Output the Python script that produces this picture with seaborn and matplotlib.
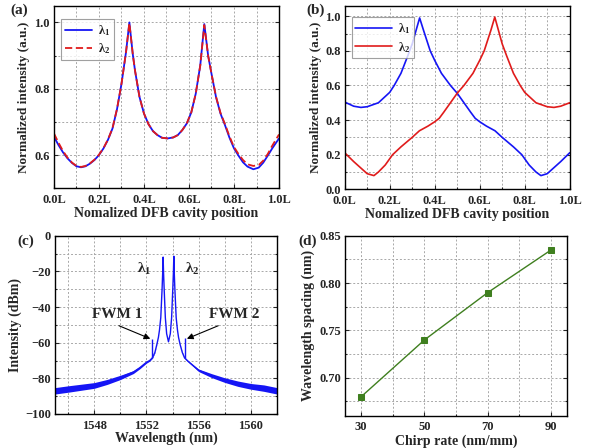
import matplotlib
matplotlib.use("Agg")

import matplotlib.pyplot as plt
from matplotlib.ticker import MultipleLocator, FuncFormatter
import seaborn as sns

# -------------------------------
# (a) intensity along the cavity, both modes
# -------------------------------
pos_a = [0.00, 0.02, 0.04, 0.06, 0.08, 0.10, 0.12, 0.14, 0.16, 0.18,
         0.20, 0.22, 0.24, 0.26, 0.28, 0.30, 0.32, 0.335, 0.35, 0.36,
         0.38, 0.40, 0.42, 0.44, 0.46, 0.48, 0.505, 0.53, 0.55, 0.57,
         0.59, 0.61, 0.63, 0.65, 0.668, 0.685, 0.70, 0.72, 0.74, 0.76,
         0.78, 0.80, 0.82, 0.84, 0.86, 0.886, 0.91, 0.93, 0.95, 0.97, 1.00]
lam1_a = [0.655, 0.630, 0.608, 0.590, 0.576, 0.566, 0.563, 0.566, 0.574, 0.585,
          0.600, 0.620, 0.646, 0.680, 0.738, 0.815, 0.910, 1.000, 0.905, 0.855,
          0.775, 0.725, 0.693, 0.672, 0.660, 0.652, 0.650, 0.653, 0.660, 0.675,
          0.695, 0.728, 0.785, 0.870, 0.995, 0.900, 0.845, 0.775, 0.725, 0.690,
          0.652, 0.620, 0.598, 0.578, 0.565, 0.557, 0.562, 0.577, 0.598, 0.620, 0.650]
lam2_a = [0.665, 0.637, 0.612, 0.592, 0.577, 0.567, 0.564, 0.567, 0.575, 0.586,
          0.601, 0.621, 0.647, 0.681, 0.739, 0.815, 0.910, 0.998, 0.905, 0.855,
          0.775, 0.725, 0.693, 0.672, 0.660, 0.652, 0.650, 0.653, 0.660, 0.675,
          0.695, 0.728, 0.785, 0.870, 0.992, 0.900, 0.845, 0.776, 0.727, 0.693,
          0.656, 0.624, 0.603, 0.585, 0.572, 0.567, 0.570, 0.583, 0.603, 0.628, 0.662]

# -------------------------------
# (b) intensity along the cavity, chirped
# -------------------------------
pos_b1 = [0.00, 0.04, 0.072, 0.10, 0.15, 0.20, 0.22, 0.25, 0.28, 0.30,
          0.333, 0.35, 0.38, 0.40, 0.43, 0.47, 0.50, 0.53, 0.56, 0.58,
          0.60, 0.63, 0.668, 0.70, 0.75, 0.787, 0.82, 0.85, 0.872, 0.90,
          0.93, 0.96, 1.00]
lam1_b = [0.504, 0.480, 0.473, 0.477, 0.500, 0.560, 0.600, 0.670, 0.770, 0.840,
          0.990, 0.920, 0.800, 0.745, 0.670, 0.600, 0.555, 0.500, 0.445, 0.410,
          0.390, 0.365, 0.338, 0.300, 0.245, 0.200, 0.140, 0.100, 0.079, 0.090,
          0.125, 0.160, 0.211]
pos_b2 = [0.00, 0.04, 0.07, 0.10, 0.13, 0.15, 0.18, 0.213, 0.25, 0.30,
          0.332, 0.37, 0.40, 0.42, 0.44, 0.47, 0.50, 0.53, 0.57, 0.60,
          0.62, 0.65, 0.667, 0.70, 0.72, 0.75, 0.78, 0.80, 0.85, 0.90,
          0.93, 0.96, 1.00]
lam2_b = [0.211, 0.160, 0.125, 0.090, 0.079, 0.100, 0.140, 0.200, 0.245, 0.300,
          0.338, 0.365, 0.390, 0.410, 0.445, 0.500, 0.555, 0.600, 0.670, 0.745,
          0.800, 0.920, 0.995, 0.840, 0.770, 0.670, 0.600, 0.560, 0.500, 0.477,
          0.473, 0.480, 0.500]

# -------------------------------
# (c) output spectrum
# -------------------------------
wl = [1545.0, 1546.0, 1547.0, 1548.0, 1549.0, 1550.0, 1550.5, 1551.0, 1551.5,
      1552.0, 1552.25, 1552.46, 1552.65, 1552.8, 1552.92, 1553.0, 1553.1,
      1553.2, 1553.25, 1553.28, 1553.31, 1553.36, 1553.45, 1553.55, 1553.69,
      1553.83, 1553.93, 1554.02, 1554.07, 1554.1, 1554.13, 1554.18, 1554.28,
      1554.38, 1554.46, 1554.58, 1554.75, 1554.92, 1555.2, 1555.6, 1556.0,
      1556.5, 1557.0, 1558.0, 1559.0, 1560.0, 1561.0, 1562.0]
power = [-87.0, -86.0, -85.0, -84.0, -82.0, -79.5, -78.0, -76.5, -74.0,
         -71.0, -70.0, -68.5, -65.5, -61.0, -57.0, -53.0, -46.0,
         -30.0, -20.0, -12.0, -20.0, -30.0, -46.0, -55.0, -59.5,
         -55.0, -46.0, -30.0, -20.0, -11.5, -20.0, -30.0, -46.0,
         -53.0, -57.0, -61.0, -65.5, -68.5, -70.5, -73.0, -75.5,
         -77.0, -78.5, -81.0, -83.0, -84.5, -85.5, -87.0]
noise = [1.8, 1.8, 1.7, 1.6, 1.4, 1.2, 1.0, 0.8, 0.6,
         0.5, 0.4, 0.3, 0.2, 0.1, 0.0, 0.0, 0.0,
         0.0, 0.0, 0.0, 0.0, 0.0, 0.0, 0.0, 0.0,
         0.0, 0.0, 0.0, 0.0, 0.0, 0.0, 0.0, 0.0,
         0.0, 0.0, 0.1, 0.2, 0.3, 0.4, 0.5, 0.7,
         0.9, 1.1, 1.3, 1.5, 1.6, 1.8, 1.8]
fwm_wl = [1552.46, 1554.92]
fwm_top = [-58.0, -57.5]
fwm_base = [-68.5, -68.5]

# -------------------------------
# (d) wavelength spacing vs chirp
# -------------------------------
chirp = [30, 50, 70, 90]
spacing = [0.680, 0.740, 0.790, 0.835]

BLUE = "#1515f5"
RED = "#e01b1b"
GREEN = "#3f7f1f"
TICK_FS = 9
LABEL_FS = 10

sns.set_style("ticks")
plt.rcParams["font.family"] = ["Liberation Serif", "DejaVu Serif"]
plt.rcParams["font.weight"] = "bold"
plt.rcParams["axes.labelweight"] = "bold"
plt.rcParams["mathtext.fontset"] = "custom"
plt.rcParams["mathtext.rm"] = "Liberation Serif:bold"
plt.rcParams["mathtext.default"] = "rm"

fig = plt.figure(figsize=(5.94, 4.48), dpi=100)
ax_a = fig.add_axes([0.0909, 0.580, 0.3788, 0.407])
ax_b = fig.add_axes([0.5803, 0.5775, 0.3788, 0.4095])
ax_c = fig.add_axes([0.0926, 0.0759, 0.3737, 0.398])
ax_d = fig.add_axes([0.5813, 0.0721, 0.3732, 0.4018])


def style_axis(ax, xmaj, xmin, ymaj, ymin):
    ax.xaxis.set_major_locator(MultipleLocator(xmaj))
    ax.xaxis.set_minor_locator(MultipleLocator(xmin))
    ax.yaxis.set_major_locator(MultipleLocator(ymaj))
    ax.yaxis.set_minor_locator(MultipleLocator(ymin))
    ax.grid(True, which="both", color="#a8a8a8", linestyle=(0, (2, 2)), linewidth=0.7)
    ax.set_axisbelow(True)
    ax.tick_params(which="both", direction="in", right=True, labelsize=TICK_FS,
                   width=0.8, pad=3)
    ax.tick_params(axis="x", which="major", pad=4)
    ax.tick_params(which="major", length=3)
    ax.tick_params(which="minor", length=1.5)
    for s in ax.spines.values():
        s.set_linewidth(1.0)
        s.set_color("black")


def bold_ticks(ax):
    for lab in ax.get_xticklabels() + ax.get_yticklabels():
        lab.set_fontweight("bold")


pos_fmt = FuncFormatter(lambda v, _: f"{v:.1f}L")
leg_kw = dict(prop=dict(size=9, weight="bold"), frameon=True, fancybox=False,
              edgecolor="#888888", borderpad=0.3, labelspacing=0.3,
              handletextpad=0.5, borderaxespad=0.2)

# (a)
sns.lineplot(x=pos_a, y=lam1_a, ax=ax_a, color=BLUE, linewidth=1.3,
             label="λ$_1$", sort=False)
sns.lineplot(x=pos_a, y=lam2_a, ax=ax_a, color=RED, linewidth=1.3,
             linestyle=(0, (4, 2)), label="λ$_2$", sort=False)
ax_a.set_xlim(0, 1)
ax_a.set_ylim(0.5, 1.05)
style_axis(ax_a, 0.2, 0.1, 0.2, 0.1)
ax_a.xaxis.set_major_formatter(pos_fmt)
ax_a.set_xlabel("Nomalized DFB cavity position", fontsize=LABEL_FS,
                fontweight="bold", labelpad=1)
ax_a.set_ylabel("Normalized intensity (a.u.)", fontsize=9.5,
                fontweight="bold", labelpad=3)
leg = ax_a.legend(loc="upper left", bbox_to_anchor=(0.02, 0.94),
                  handlelength=2.2, **leg_kw)
leg.get_frame().set_linewidth(0.8)

# (b)
sns.lineplot(x=pos_b1, y=lam1_b, ax=ax_b, color=BLUE, linewidth=1.2,
             label="λ$_1$", sort=False)
sns.lineplot(x=pos_b2, y=lam2_b, ax=ax_b, color=RED, linewidth=1.2,
             label="λ$_2$", sort=False)
ax_b.set_xlim(0, 1)
ax_b.set_ylim(0, 1.06)
style_axis(ax_b, 0.2, 0.1, 0.2, 0.1)
ax_b.xaxis.set_major_formatter(pos_fmt)
ax_b.set_xlabel("Nomalized DFB cavity position", fontsize=LABEL_FS,
                fontweight="bold", labelpad=1)
ax_b.set_ylabel("Normalized intensity (a.u.)", fontsize=9.5,
                fontweight="bold", labelpad=2)
leg = ax_b.legend(loc="upper left", bbox_to_anchor=(0.02, 0.95),
                  handlelength=2.9, **leg_kw)
leg.get_frame().set_linewidth(0.8)

# (c)
low = [p - n for p, n in zip(power, noise)]
high = [p + n for p, n in zip(power, noise)]
ax_c.fill_between(wl, low, high, color=BLUE, linewidth=0)
sns.lineplot(x=wl, y=power, ax=ax_c, color=BLUE, linewidth=1.0, sort=False)
ax_c.vlines(fwm_wl, fwm_base, fwm_top, color=BLUE, linewidth=1.0)
ax_c.set_xlim(1545, 1562)
ax_c.set_ylim(-100, 0)
style_axis(ax_c, 4, 2, 20, 10)
ax_c.set_xticks([1548, 1552, 1556, 1560])
ax_c.set_xlabel("Wavelength (nm)", fontsize=LABEL_FS, fontweight="bold", labelpad=0)
ax_c.set_ylabel("Intensity (dBm)", fontsize=LABEL_FS, fontweight="bold", labelpad=2)
ax_c.text(1551.8, -18.5, "λ$_1$", fontsize=11, fontweight="bold",
          ha="center", va="center")
ax_c.text(1555.5, -18.5, "λ$_2$", fontsize=11, fontweight="bold",
          ha="center", va="center")
ax_c.text(1549.8, -44.0, "FWM 1", fontsize=11, fontweight="bold",
          ha="center", va="center")
ax_c.text(1558.7, -44.0, "FWM 2", fontsize=11, fontweight="bold",
          ha="center", va="center")
arrow_kw = dict(arrowstyle="-|>", color="black", lw=0.8,
                shrinkA=0, shrinkB=0, mutation_scale=9)
ax_c.annotate("", xy=(1552.3, -57.8), xytext=(1549.9, -50.5), arrowprops=arrow_kw)
ax_c.annotate("", xy=(1555.1, -57.8), xytext=(1557.5, -50.5), arrowprops=arrow_kw)

# (d)
sns.lineplot(x=chirp, y=spacing, ax=ax_d, color=GREEN, linewidth=1.0,
             marker="s", markersize=5, markeredgecolor=GREEN)
ax_d.set_xlim(25, 95)
ax_d.set_ylim(0.66, 0.85)
style_axis(ax_d, 20, 10, 0.05, 0.025)
ax_d.set_xticks(chirp)
ax_d.yaxis.set_major_formatter(FuncFormatter(lambda v, _: f"{v:.2f}"))
ax_d.set_xlabel("Chirp rate (nm/mm)", fontsize=LABEL_FS, fontweight="bold", labelpad=1)
ax_d.set_ylabel("Wavelength spacing (nm)", fontsize=LABEL_FS, fontweight="bold",
                labelpad=3)

for ax in (ax_a, ax_b, ax_c, ax_d):
    bold_ticks(ax)

# panel labels
fig.text(0.018, 0.976, "(a)", fontsize=11, fontweight="bold", ha="left", va="center")
fig.text(0.516, 0.976, "(b)", fontsize=11, fontweight="bold", ha="left", va="center")
fig.text(0.030, 0.462, "(c)", fontsize=11, fontweight="bold", ha="left", va="center")
fig.text(0.503, 0.462, "(d)", fontsize=11, fontweight="bold", ha="left", va="center")

fig.savefig("out.png", dpi=100)
plt.close(fig)
